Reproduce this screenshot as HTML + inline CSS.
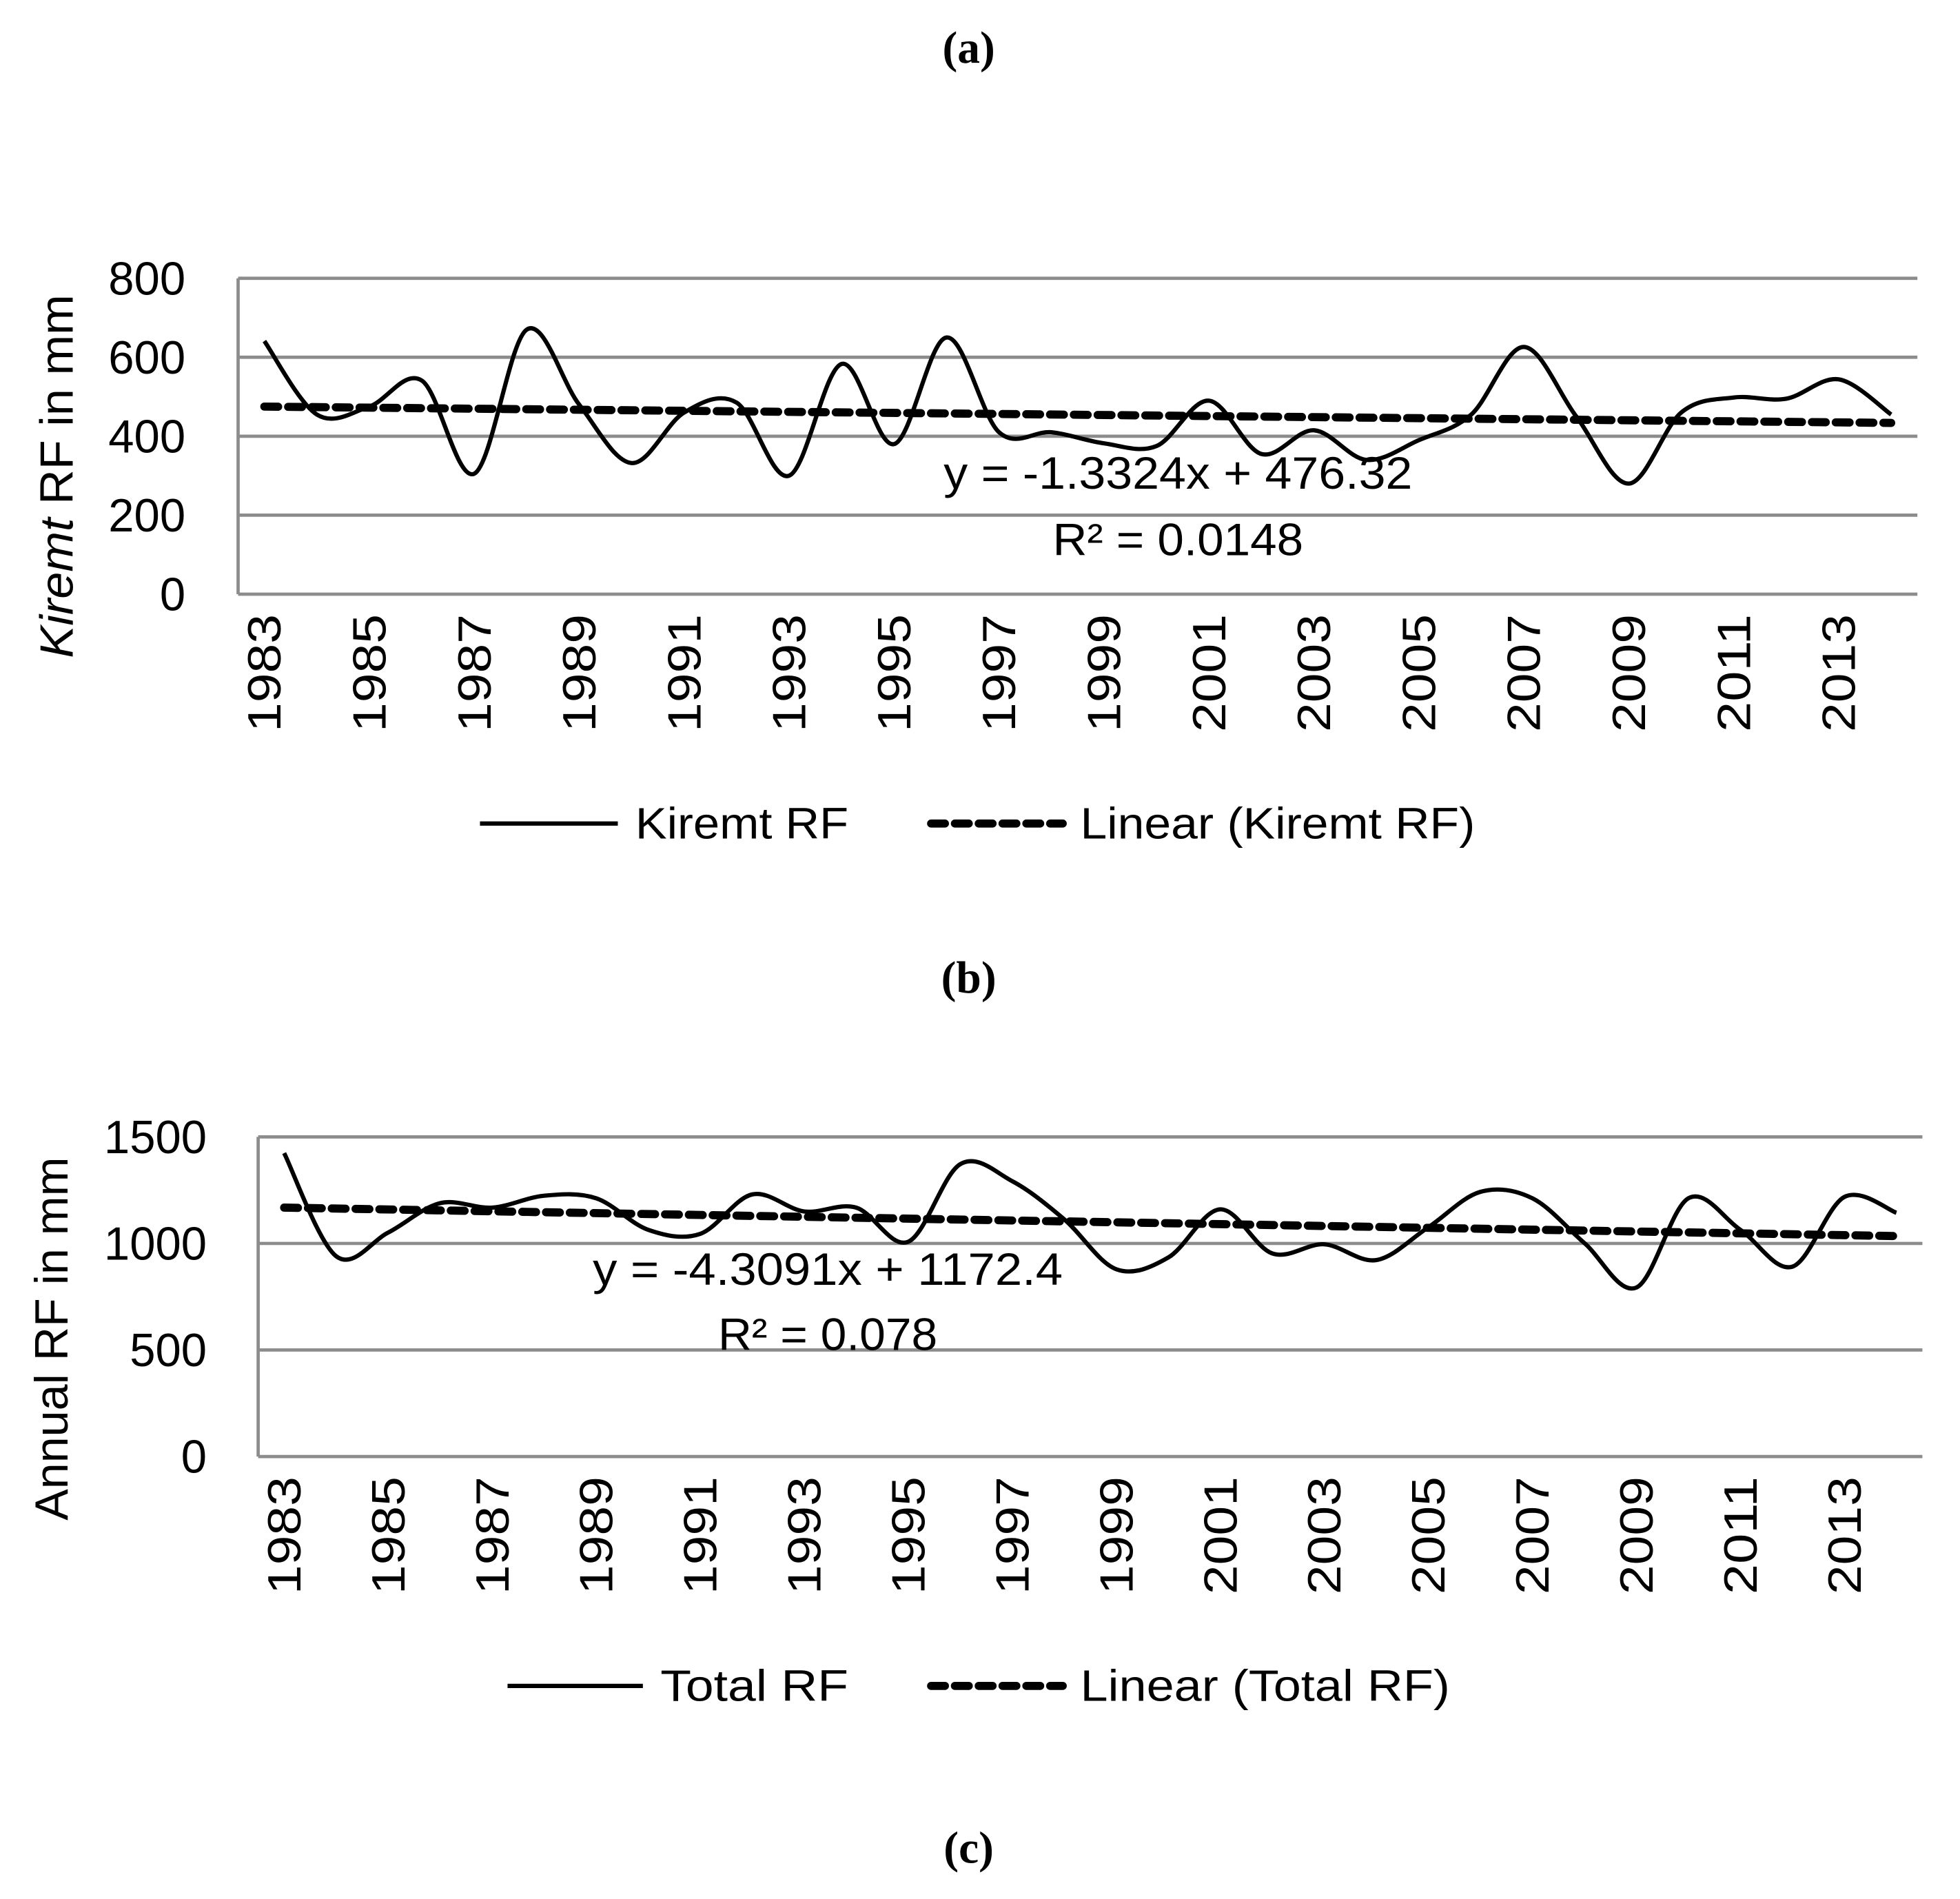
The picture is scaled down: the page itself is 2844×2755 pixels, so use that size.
<!DOCTYPE html>
<html><head><meta charset="utf-8">
<style>
html,body{margin:0;padding:0;background:#fff;}
svg{display:block;}
text{font-family:"Liberation Sans",sans-serif;fill:#000;}
.ttl{font-family:"Liberation Serif",serif;font-weight:bold;font-size:36px;}
</style></head>
<body>
<svg id="fig" width="2844" height="2755" viewBox="0 0 1564 1515" preserveAspectRatio="none" xmlns="http://www.w3.org/2000/svg">
<text class="ttl" x="773" y="50" text-anchor="middle">(a)</text>
<text class="ttl" x="773" y="792" text-anchor="middle">(b)</text>
<text class="ttl" x="773" y="1486" text-anchor="middle">(c)</text>
<g id="chartA"></g>
<g id="chartB"></g>
</svg>
<script>
const years = [];
for (let y = 1983; y <= 2014; y++) years.push(y);
const kiremtValues = [641,455,475,541,305,670,480,332,460,485,300,583,380,650,410,410,382,375,490,355,415,340,390,455,626,450,280,460,498,495,544,455];
const annualValues = [1424,940,1051,1189,1168,1224,1212,1064,1045,1230,1150,1168,1008,1372,1292,1113,879,934,1160,953,996,922,1076,1242,1212,1002,793,1212,1064,891,1218,1144];
const kiremtTicks = [0,200,400,600,800];
const annualTicks = [0,500,1000,1500];
const kiremtTrend = {slope:-1.3324, intercept:476.32};
const annualTrend = {slope:-4.3091, intercept:1172.4};

const NS = "http://www.w3.org/2000/svg";
function mk(parent, tag, attrs, txt){
  const e = document.createElementNS(NS, tag);
  for (const k in attrs) e.setAttribute(k, attrs[k]);
  if (txt !== undefined) e.textContent = txt;
  parent.appendChild(e);
  return e;
}
function spline(pts){
  let d = "M" + pts[0][0] + "," + pts[0][1];
  for (let i = 0; i < pts.length - 1; i++){
    const p0 = pts[i-1] || pts[i], p1 = pts[i], p2 = pts[i+1], p3 = pts[i+2] || pts[i+1];
    const t = 1/6;
    const c1x = p1[0] + (p2[0]-p0[0])*t, c1y = p1[1] + (p2[1]-p0[1])*t;
    const c2x = p2[0] - (p3[0]-p1[0])*t, c2y = p2[1] - (p3[1]-p1[1])*t;
    d += " C" + c1x + "," + c1y + " " + c2x + "," + c2y + " " + p2[0] + "," + p2[1];
  }
  return d;
}

function drawChart(g, cfg){
  const xs = i => cfg.left + (i + 0.5) * (cfg.right - cfg.left) / years.length;
  const ys = v => cfg.bottom - (v - 0) / cfg.max * (cfg.bottom - cfg.top);
  cfg.ticks.forEach(t => {
    const l = mk(g, "line", {x1:cfg.left, x2:cfg.right, y1:ys(t), y2:ys(t), stroke:"#8c8c8c", "stroke-width":2.6});
    
    
    const s = String(t);
    const tx = mk(g, "text", {x:cfg.tickX, y:ys(t)+13, "text-anchor":"end", "font-size":37, textLength:s.length*20.5, lengthAdjust:"spacingAndGlyphs"}, s);
    
    
  });
  const ax = mk(g, "line", {x1:cfg.left, x2:cfg.left, y1:cfg.top, y2:cfg.bottom, stroke:"#8c8c8c", "stroke-width":2.6});
  
  
  years.forEach((yr, i) => {
    if (i % 2) return;
    const x = xs(i) + 13, y = cfg.bottom + 16;
    const tx = mk(g, "text", {x:x, y:y, "text-anchor":"end", "font-size":37, textLength:94, lengthAdjust:"spacingAndGlyphs", transform:"rotate(-90 " + x + " " + y + ")"}, String(yr));
    
    
  });
  const n = years.length;
  const tp = [1, n].map(k => [xs(k-1), ys(cfg.trend.slope*k + cfg.trend.intercept)]);
  const tl = mk(g, "line", {x1:tp[0][0], y1:tp[0][1], x2:tp[1][0], y2:tp[1][1], stroke:"#000", "stroke-width":6.5, "stroke-dasharray":"11 8", "stroke-linecap":"round"});
  
  
  const pts = cfg.values.map((v, i) => [xs(i), ys(v)]);
  const p = mk(g, "path", {d:spline(pts), fill:"none", stroke:"#000", "stroke-width":3.4, "stroke-linejoin":"round"});
  
  
  const e1 = mk(g, "text", {x:cfg.eq[0], y:cfg.eq[1], "font-size":36, textLength:cfg.eq[2], lengthAdjust:"spacingAndGlyphs"}, cfg.eqText);
  
  
  const e2 = mk(g, "text", {x:cfg.r2[0], y:cfg.r2[1], "font-size":36, textLength:cfg.r2[2], lengthAdjust:"spacingAndGlyphs"}, cfg.r2Text);
  
  
  const yt = mk(g, "text", {x:cfg.ytX, y:cfg.ytY, "text-anchor":"middle", "font-size":37, textLength:290, lengthAdjust:"spacingAndGlyphs", transform:"rotate(-90 " + cfg.ytX + " " + cfg.ytY + ")"});
  
  
  if (cfg.ytItalic){
    mk(yt, "tspan", {"font-style":"italic"}, cfg.ytItalic);
  }
  mk(yt, "tspan", {}, cfg.ytText);
  const L = cfg.legY;
  const l1 = mk(g, "line", {x1:cfg.leg1[0], x2:cfg.leg1[1], y1:L, y2:L, stroke:"#000", "stroke-width":3.4});
  
  
  const lt1 = mk(g, "text", {x:cfg.leg1[1]+14, y:L+12, "font-size":35, textLength:cfg.leg1[2], lengthAdjust:"spacingAndGlyphs"}, cfg.leg1Text);
  
  
  const l2 = mk(g, "line", {x1:743, x2:848, y1:L, y2:L, stroke:"#000", "stroke-width":6.5, "stroke-dasharray":"11 8", "stroke-linecap":"round"});
  
  
  const lt2 = mk(g, "text", {x:862, y:L+12, "font-size":35, textLength:cfg.leg2W, lengthAdjust:"spacingAndGlyphs"}, cfg.leg2Text);
  
  
}

drawChart(document.getElementById("chartA"), {
  left:190, right:1530, top:222, bottom:474, max:800, ticks:kiremtTicks, tickX:148,
  values:kiremtValues, trend:kiremtTrend,
  eq:[753,390,374], eqText:"y = -1.3324x + 476.32",
  r2:[840,443,200], r2Text:"R² = 0.0148",
  ytX:58, ytY:380, ytItalic:"Kiremt", ytText:" RF in mm",
  legY:657, leg1:[383,493,170], leg1Text:"Kiremt RF", leg2W:315, leg2Text:"Linear (Kiremt RF)"
});
drawChart(document.getElementById("chartB"), {
  left:206, right:1534, top:907, bottom:1162, max:1500, ticks:annualTicks, tickX:165,
  values:annualValues, trend:annualTrend,
  eq:[473,1025,375], eqText:"y = -4.3091x + 1172.4",
  r2:[573,1077,175], r2Text:"R² = 0.078",
  ytX:54, ytY:1068, ytItalic:"", ytText:"Annual RF in mm",
  legY:1345, leg1:[405,513,150], leg1Text:"Total  RF", leg2W:295, leg2Text:"Linear (Total  RF)"
});
</script>
</body></html>
